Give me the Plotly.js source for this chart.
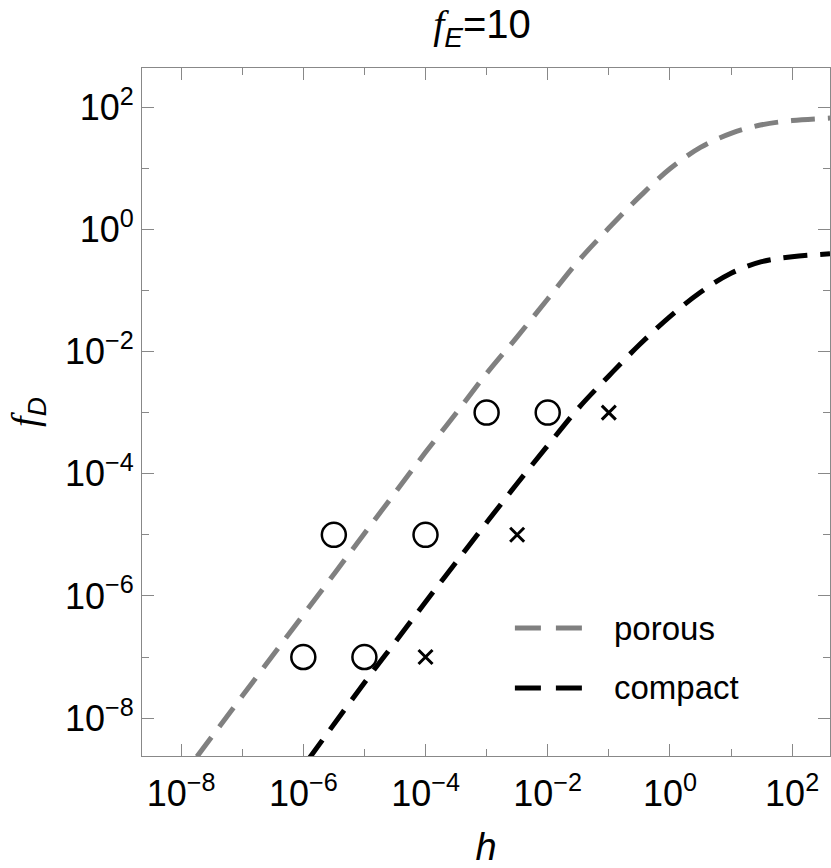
<!DOCTYPE html>
<html lang="en">
<head>
    <meta charset="UTF-8">
    <title>f_D vs h</title>
    <script src="https://cdn.plot.ly/plotly-3.0.1.min.js"></script>
    <style>
        body { margin: 0; background: #fff; }
        #plot { width: 831px; height: 868px; }
    </style>
</head>
<body>
    <div id="plot"></div>
    <script>
        // curves, as log10 values
        const porousLogH = [-7.74, -7, -6, -5, -4, -3.5, -3, -2.5, -2, -1.5, -1, -0.5, 0, 0.5, 1, 1.5, 2, 2.62];
        const porousLogF = [-8.63, -7.64, -6.31, -4.98, -3.65, -3.01, -2.36, -1.76, -1.14, -0.52, 0.02, 0.53, 0.99, 1.34, 1.57, 1.71, 1.78, 1.82];
        const compactLogH = [-5.92, -5, -4.5, -4, -3.5, -3, -2.5, -2, -1.5, -1, -0.5, 0, 0.5, 1, 1.5, 2, 2.62];
        const compactLogF = [-8.68, -7.42, -6.76, -6.10, -5.45, -4.80, -4.16, -3.54, -2.93, -2.40, -1.89, -1.43, -1.03, -0.72, -0.53, -0.45, -0.40];

        // simulation points
        const circleH = [1e-6, 1e-5, 3.16e-6, 1e-4, 1e-3, 1e-2];
        const circleF = [1e-7, 1e-7, 1e-5, 1e-5, 1e-3, 1e-3];
        const crossH = [1e-4, 3.16e-3, 1e-1];
        const crossF = [1e-7, 1e-5, 1e-3];

        const majorTicks = [1e-8, 1e-6, 1e-4, 1e-2, 1, 1e2];
        const tickText = ['10<sup>\u22128</sup>', '10<sup>\u22126</sup>', '10<sup>\u22124</sup>',
                          '10<sup>\u22122</sup>', '10<sup>0</sup>', '10<sup>2</sup>'];
        const minorTicks = [1e-9, 1e-7, 1e-5, 1e-3, 1e-1, 1e1];

        const pow10 = v => Math.pow(10, v);

        const porous = {
            x: porousLogH.map(pow10), y: porousLogF.map(pow10),
            type: 'scatter', mode: 'lines', name: 'porous', showlegend: false,
            line: { color: '#808080', width: 5, dash: '24px,13px', shape: 'spline' }
        };
        const compact = {
            x: compactLogH.map(pow10), y: compactLogF.map(pow10),
            type: 'scatter', mode: 'lines', name: 'compact', showlegend: false,
            line: { color: '#000', width: 5, dash: '24px,13px', shape: 'spline' }
        };
        const circles = {
            x: circleH, y: circleF, type: 'scatter', mode: 'markers', showlegend: false,
            marker: { symbol: 'circle-open', size: 24, color: '#000', line: { width: 2.5, color: '#000' } }
        };
        const crosses = {
            x: crossH, y: crossF, type: 'scatter', mode: 'markers', showlegend: false,
            marker: { symbol: 'x-thin-open', size: 14, color: '#000', line: { width: 3, color: '#000' } }
        };

        const axisBase = {
            type: 'log',
            showline: true, linecolor: '#888', linewidth: 1.2, mirror: 'ticks',
            ticks: 'inside', ticklen: 12, tickwidth: 1.2, tickcolor: '#888',
            tickmode: 'array', tickvals: majorTicks, ticktext: tickText,
            minor: { tickmode: 'array', tickvals: minorTicks, ticks: 'inside', ticklen: 7, tickwidth: 1.2, tickcolor: '#888' },
            showgrid: false, zeroline: false,
            tickfont: { family: 'Liberation Sans, Arial, sans-serif', size: 36, color: '#000' }
        };

        const serifF = '<span style="font-family:Liberation Serif"><i>f</i></span>';

        // legend drawn by hand so the sample line matches
        const legY = [0.186, 0.099];
        const legColors = ['#808080', '#000'];
        const legNames = ['porous', 'compact'];

        const layout = {
            width: 831, height: 868,
            margin: { l: 142, r: 1, t: 68, b: 112 },
            paper_bgcolor: '#fff', plot_bgcolor: '#fff',
            font: { family: 'Liberation Sans, Arial, sans-serif', color: '#000' },
            title: {
                text: serifF + '<sub><i>E</i></sub>=10',
                font: { size: 40, color: '#000' },
                x: 0.58, xanchor: 'center', y: 0.972, yanchor: 'middle'
            },
            xaxis: Object.assign({}, axisBase, {
                range: [-8.64, 2.62],
                ticklabelstandoff: 6,
                title: { text: '<i>h</i>', font: { size: 38, color: '#000' }, standoff: 26 }
            }),
            yaxis: Object.assign({}, axisBase, {
                range: [-8.62, 2.64],
                title: { text: serifF + '<sub><i>D</i></sub>', font: { size: 38, color: '#000' }, standoff: 14 }
            }),
            shapes: legY.map((y, i) => ({
                type: 'line', xref: 'paper', yref: 'paper',
                x0: 0.542, x1: 0.641, y0: y, y1: y,
                line: { color: legColors[i], width: 5, dash: '26px,15px' }
            })),
            annotations: legY.map((y, i) => ({
                xref: 'paper', yref: 'paper', x: 0.683, y: y,
                xanchor: 'left', yanchor: 'middle', showarrow: false,
                text: legNames[i], font: { size: 33, color: '#000' }
            }))
        };

        Plotly.newPlot('plot', [porous, compact, circles, crosses], layout, { displayModeBar: false });
    </script>
</body>
</html>
